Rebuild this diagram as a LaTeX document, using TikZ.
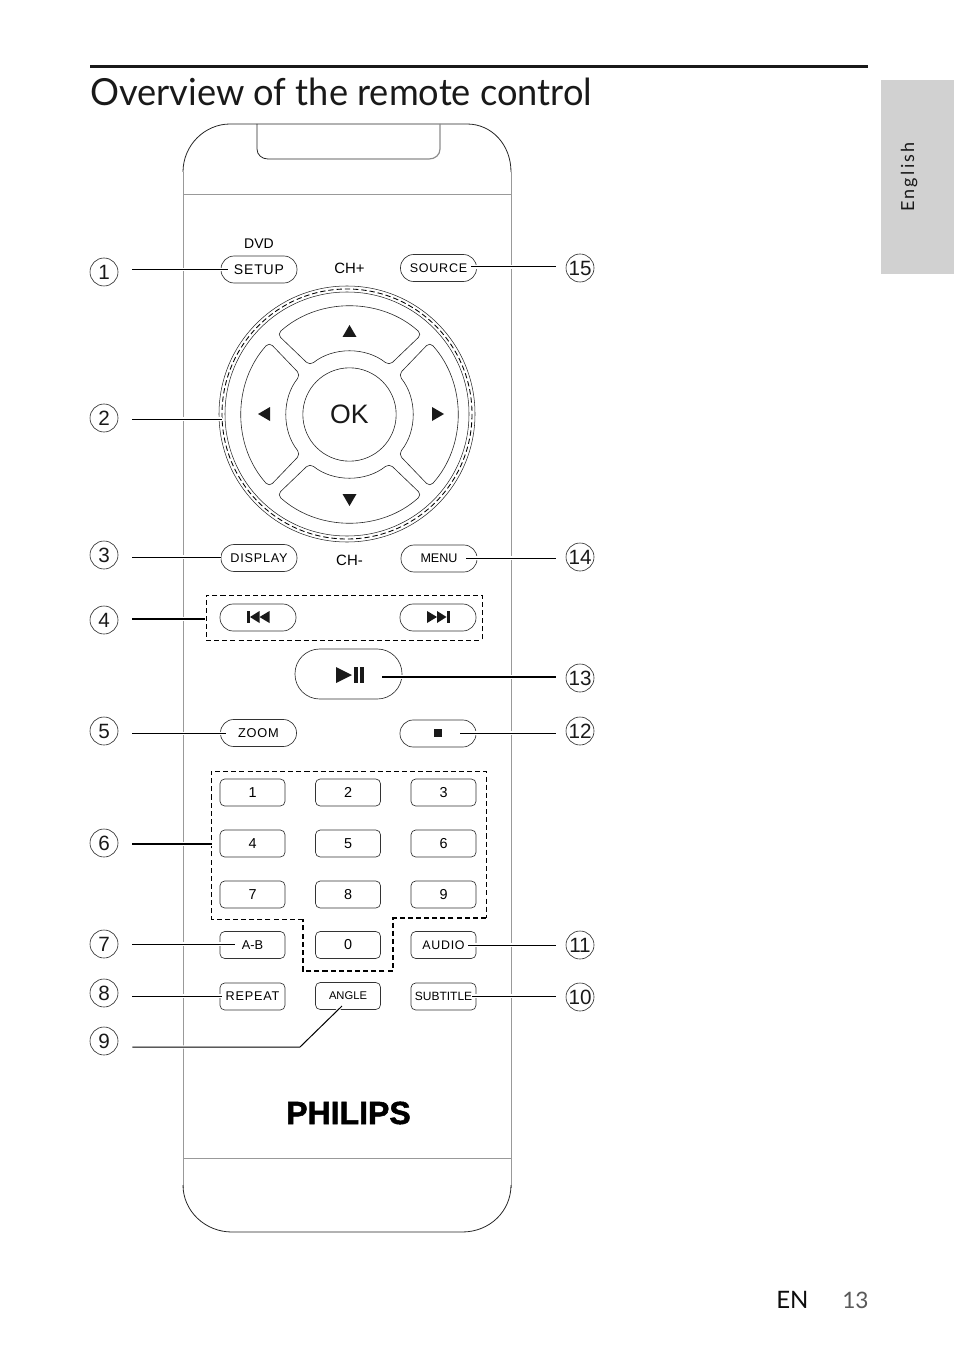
\documentclass[tikz,border=0pt]{standalone}
\usepackage{fontspec}
\setmainfont{Liberation Sans}
\newfontfamily\gill{Lato}
\newfontfamily\gilltitle[FakeStretch=0.97]{Lato}
\newfontfamily\spaced[LetterSpace=6]{Liberation Sans}
\newfontfamily\logofont[FakeBold=1.6]{Liberation Sans Bold}
\begin{document}
\begin{tikzpicture}[x=0.75pt,y=-0.75pt,
  pillbtn/.style={draw=black!80,line width=0.5pt,rounded corners=9.9pt,minimum width=57pt,minimum height=20.25pt,inner sep=0pt},
  rectbtn/.style={draw=black!80,line width=0.5pt,rounded corners=3.5pt,minimum width=48.75pt,minimum height=20.25pt,inner sep=0pt},
  digit/.style={font=\fontsize{10.8}{12}\selectfont},
  label/.style={inner sep=0pt,font=\fontsize{11.2}{12}\selectfont},
  num/.style={draw=black!85,circle,line width=0.45pt,minimum size=21pt,inner sep=0pt,font=\fontsize{15.5}{16}\selectfont,text=black!90},
  leaderL/.style={draw=black,line width=0.75pt,shorten <=10.5pt,preaction={draw=white,line width=2.4pt}},
  leaderR/.style={draw=black,line width=0.75pt,shorten <=7.5pt,preaction={draw=white,line width=2.4pt}},
  heavy/.style={line width=1.15pt},
  dashbox/.style={draw=black,line width=0.7pt,dash pattern=on 3.8pt off 2.3pt},
  keyshape/.style={draw=black!85,line width=0.45pt,rounded corners=3.5pt},
  icon/.style={fill=black!90,draw=none}]
\useasboundingbox (0,0) rectangle (954,1351);

% page furniture
\fill[black!90] (90,65.2) rectangle (868,68);
\node[anchor=base west,inner sep=0pt,font=\gilltitle\fontsize{28}{30}\selectfont,text=black!90] (title) at (90,105.5) {Overview of the remote control};
\fill[black!18] (881,80) rectangle (954,274);
\node[rotate=90,inner sep=0pt,font=\gill\fontsize{13.5}{14}\addfontfeatures{LetterSpace=13}\selectfont,text=black!90] (lang) at (909,177) {English};
\node[anchor=base west,inner sep=0pt,font=\gill\fontsize{18}{20}\selectfont,text=black!95] (en) at (776,1308) {EN};
\node[anchor=base west,inner sep=0pt,font=\gill\fontsize{17}{20}\selectfont,text=black!65] (pg) at (842,1308) {13};

% remote body
\draw[black!40,line width=0.7pt] (183,172) -- (183,1188);
\draw[black!40,line width=0.7pt] (511,172) -- (511,1188);
\draw[black!85,line width=0.6pt] (183,172) .. controls (183,145) and (205,124) .. (230,124) -- (467,124) .. controls (492,124) and (511,145) .. (511,172);
\draw[black!85,line width=0.6pt] (183,1185) .. controls (183,1211) and (205,1232) .. (232,1232) -- (462,1232) .. controls (490,1232) and (511,1211) .. (511,1185);
\draw[black!40,line width=0.7pt] (183,194) -- (511,194);
\draw[black!40,line width=0.7pt] (183,1158) -- (511,1158);
\draw[black!85,line width=0.6pt] (257,124) -- (257,149) .. controls (257,155) and (262,159) .. (268,159);
\draw[black!45,line width=0.9pt] (268,159) -- (429,159) .. controls (435,159) and (440,155) .. (440,149) -- (440,124);

% navigation ring
\begin{scope}[shift={(347,414)}]
  \draw[black!85,line width=0.4pt] (0,0) circle[radius=128];
  \draw[black,line width=0.65pt,dash pattern=on 4pt off 2.2pt] (0,0) circle[radius=125];
  \draw[black!85,line width=0.4pt] (0,0) circle[radius=122];
\end{scope}
\begin{scope}[shift={(349.5,414.5)}]
  \node[draw=black!85,circle,line width=0.45pt,minimum size=70pt,inner sep=0pt,font=\fontsize{20}{20}\selectfont,text=black!90] (ok) at (0,0) {OK};
  \foreach \a/\b/\c in {90/42/39,270/42/39,0/42/39,180/42/39} {
    \draw[keyshape] (\a-\b:108) arc[start angle=\a-\b,delta angle=2*\b,radius=108] -- (\a+\c:63) arc[start angle=\a+\c,delta angle=-2*\c,radius=63] -- cycle;
  }
\end{scope}
\fill[icon] (349.5,325) -- (356.5,337) -- (342.5,337) -- cycle;
\fill[icon] (349.5,506) -- (356.5,494) -- (342.5,494) -- cycle;
\fill[icon] (258,414) -- (270,407) -- (270,421) -- cycle;
\fill[icon] (444,414) -- (432,407) -- (432,421) -- cycle;

% labels and pill buttons
\node[label,font=\fontsize{10.5}{12}\selectfont] (dvd) at (259,244) {DVD};
\node[label] (chp) at (349.5,268) {CH+};
\node[label] (chm) at (349.5,560.5) {CH-};
\node[pillbtn,font=\fontsize{10.5}{12}\spaced] (setup) at (259,269.5) {SETUP};
\node[pillbtn,font=\fontsize{9.4}{12}\spaced] (source) at (438.5,268) {SOURCE};
\node[pillbtn,font=\fontsize{9.5}{12}\spaced] (display) at (259,558) {DISPLAY};
\node[pillbtn,font=\fontsize{9.4}{12}\selectfont] (menu) at (439,558.5) {MENU};
\node[pillbtn] (prev) at (258,617.5) {};
\node[pillbtn] (next) at (438,617.5) {};
\node[pillbtn,minimum width=80.25pt,minimum height=37.5pt,rounded corners=18.5pt] (play) at (348.5,674) {};
\node[pillbtn,font=\fontsize{9.6}{12}\spaced] (zoom) at (258.5,733) {ZOOM};
\node[pillbtn] (stop) at (438,733.5) {};

% icons
\fill[icon] (247,611) rectangle (249.5,623);
\fill[icon] (250,617) -- (259.5,611) -- (259.5,623) -- cycle;
\fill[icon] (259.5,617) -- (269.5,611) -- (269.5,623) -- cycle;
\fill[icon] (449.5,611) rectangle (447,623);
\fill[icon] (446.5,617) -- (437,611) -- (437,623) -- cycle;
\fill[icon] (437,617) -- (427,611) -- (427,623) -- cycle;
\fill[icon] (336,667) -- (352,675) -- (336,683) -- cycle;
\fill[icon] (353.5,667) rectangle (358,683);
\fill[icon] (359.5,667) rectangle (364,683);
\fill[icon] (434,729) rectangle (442,737);

% number pad
\node[rectbtn,digit] (k1) at (252.5,792.5) {1};
\node[rectbtn,digit] (k2) at (348,792.5) {2};
\node[rectbtn,digit] (k3) at (443.5,792.5) {3};
\node[rectbtn,digit] (k4) at (252.5,843.5) {4};
\node[rectbtn,digit] (k5) at (348,843.5) {5};
\node[rectbtn,digit] (k6) at (443.5,843.5) {6};
\node[rectbtn,digit] (k7) at (252.5,894.5) {7};
\node[rectbtn,digit] (k8) at (348,894.5) {8};
\node[rectbtn,digit] (k9) at (443.5,894.5) {9};
\node[rectbtn,digit] (k0) at (348,945) {0};
\node[rectbtn,font=\fontsize{9.6}{12}\selectfont] (ab) at (252.5,945) {A-B};
\node[rectbtn,font=\fontsize{9.3}{12}\spaced] (audio) at (443.5,945) {AUDIO};
\node[rectbtn,font=\fontsize{9.5}{12}\spaced] (repeat) at (252.5,996.5) {REPEAT};
\node[rectbtn,font=\fontsize{8.4}{12}\selectfont] (angle) at (348,996) {ANGLE};
\node[rectbtn,font=\fontsize{9}{12}\selectfont] (subtitle) at (443.5,996.5) {SUBTITLE};

% dashed groups
\node[dashbox,minimum width=207pt,minimum height=33.75pt,inner sep=0pt] (group) at (344,617.5) {};
\draw[dashbox] (303,919) -- (211,919) -- (211,771) -- (486,771) -- (486,918);
\draw[dashbox,heavy] (486,918) -- (393,918) -- (393,971) -- (303,971) -- (303,919);
\coordinate (pad) at (211.5,844);

% logo
\node[inner sep=0pt,anchor=base,font=\logofont\fontsize{24}{26}\selectfont] (logo) at (348.5,1124) {PHILIPS};

% numbered callouts
\foreach \n/\px/\py/\t in {n1/104/272/1,n2/104/418/2,n3/104/555/3,n4/104/620/4,n5/104/731/5,n6/104/843/6,n7/104/944/7,n8/104/993/8,n9/104/1041/9,
  n10/580/997/10,n11/580/945/11,n12/580/731/12,n13/580/678/13,n14/580/557/14,n15/580/268/15}
  \node[num] (\n) at (\px,\py) {\t};

% connector ends
\coordinate (e1) at ([shift={(7,0)}]setup.west);
\coordinate (e2) at (222,419);
\coordinate (e3) at ([shift={(0,-1)}]display.west);
\coordinate (e4) at ([shift={(-1,1.5)}]group.west);
\coordinate (e5) at ([shift={(6,0.5)}]zoom.west);
\coordinate (e6) at (pad);
\coordinate (e7) at ([shift={(15,-1)}]ab.west);
\coordinate (e8) at ([shift={(2,-0.5)}]repeat.west);
\coordinate (e9) at ([shift={(-6,10)}]angle.center);
\coordinate (e10) at ([shift={(-4,-0.5)}]subtitle.east);
\coordinate (e11) at ([shift={(-8,0)}]audio.east);
\coordinate (e12) at ([shift={(-16,-0.5)}]stop.east);
\coordinate (e13) at ([shift={(-20,3)}]play.east);
\coordinate (e14) at ([shift={(-11,-0.5)}]menu.east);
\coordinate (e15) at ([shift={(-6,-1)}]source.east);
\coordinate (b9) at (300,1047);

% connectors
\foreach \k in {1,2,3,5,7,8} \draw[leaderL] (n\k.east |- e\k) -- (e\k);
\foreach \k in {4,6} \draw[leaderL,heavy] (n\k.east |- e\k) -- (e\k);
\foreach \k in {10,11,12,14,15} \draw[leaderR] (n\k.west |- e\k) -- (e\k);
\draw[leaderR,line width=0.9pt] (n13.west |- e13) -- (e13);
\draw[leaderL] (n9.east |- b9) -- (b9) -- (e9);
\end{tikzpicture}
\end{document}
